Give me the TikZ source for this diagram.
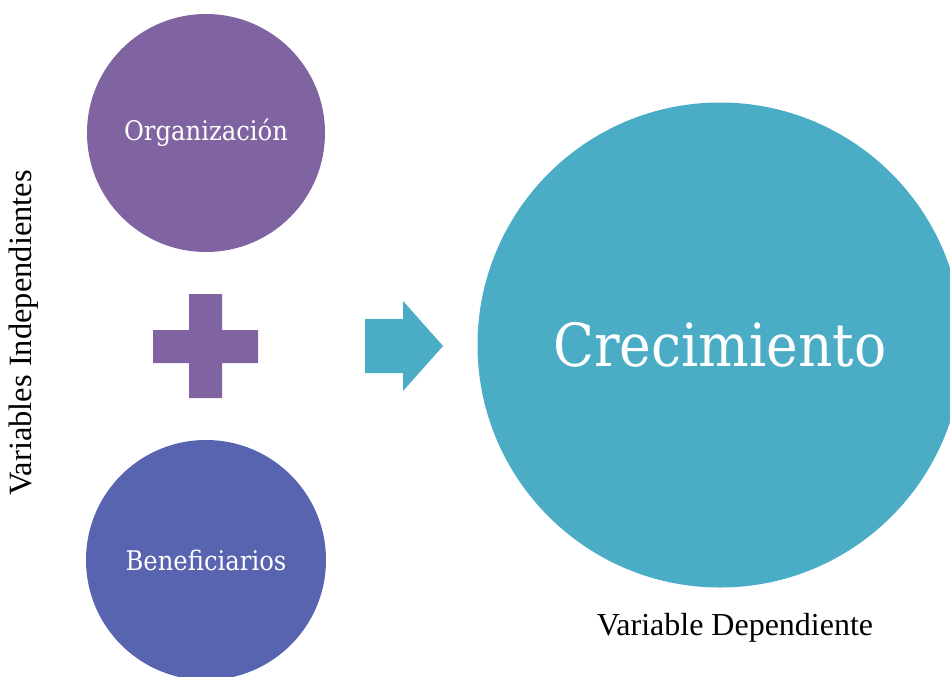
\documentclass[tikz,border=0pt]{standalone}
\usepackage{fontspec}
\setmainfont{Liberation Serif}
\newfontfamily\circfont{DejaVu Serif Condensed}
\definecolor{cpurple}{HTML}{8064A2}
\definecolor{cindigo}{HTML}{5864B0}
\definecolor{cteal}{HTML}{4BACC6}
\begin{document}
\begin{tikzpicture}[x=1pt,y=-1pt,
  bubble/.style={circle,inner sep=0pt,text=white,font=\circfont},
  lbl/.style={inner sep=0pt,text=black}]
\useasboundingbox (0,0) rectangle (950,677);
\clip (0,0) rectangle (950,677);
\node[bubble,fill=cpurple,minimum size=238pt,font=\fontsize{27}{30}\selectfont\circfont] (org) at (206,133) {Organización};
\node[bubble,fill=cindigo,minimum size=240pt,font=\fontsize{27}{30}\selectfont\circfont] (ben) at (206,560) {Beneficiarios};
\node[bubble,fill=cteal,minimum size=485pt,font=\fontsize{59.5}{64}\selectfont\circfont] (cre) at (720,345) {Crecimiento};
% plus sign
\fill[cpurple] (189,294) -- (222,294) -- (222,330) -- (258,330) -- (258,363) -- (222,363) -- (222,398) -- (189,398) -- (189,363) -- (153,363) -- (153,330) -- (189,330) -- cycle;
% arrow
\fill[cteal] (365,319) -- (403,319) -- (403,301) -- (443,346) -- (403,391) -- (403,373) -- (365,373) -- cycle;
\node[lbl,font=\fontsize{32.5}{36}\selectfont,rotate=90] (vi) at (24,333) {Variables Independientes};
\node[lbl,font=\fontsize{32}{36}\selectfont] (vd) at (735,628) {Variable Dependiente};
\end{tikzpicture}
\end{document}
